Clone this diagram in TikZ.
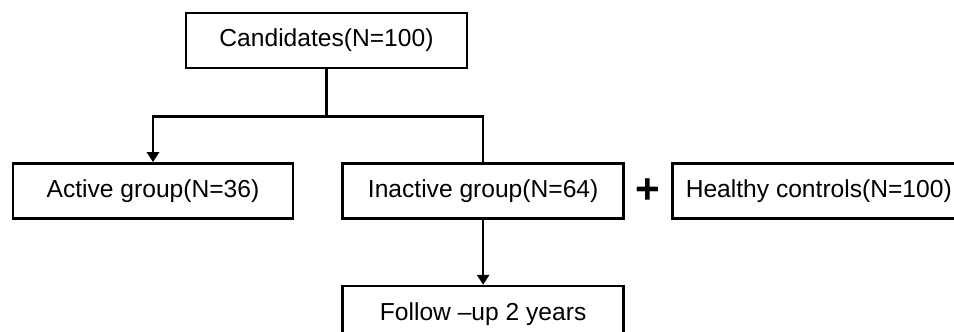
\documentclass[tikz,border=0pt]{standalone}
\usepackage{fontspec}
\setmainfont{Liberation Sans}
\usepackage{tikz}
\usetikzlibrary{arrows.meta,positioning,calc}
\definecolor{flowblack}{RGB}{0,0,0}
\tikzset{
  flowbox/.style={draw=flowblack, line width=1.5pt, align=center,
                  minimum width=#1, minimum height=1.1cm, inner sep=0pt,
                  font=\fontsize{14}{16}\selectfont},
  flowbox/.default=5.62cm,
  link/.style   ={line width=1.5pt, draw=flowblack},
  arr/.style    ={link, -{Triangle[length=0.2cm, width=0.24cm]}},
}
\begin{document}
\begin{tikzpicture}
  \useasboundingbox (0,0) rectangle (19.08,-6.64);
  \clip (0,0) rectangle (19.08,-6.64);

  \node[flowbox] (cand) at (6.53,-0.81) {Candidates(N=100)};
  \node[flowbox=5.6cm] (act) at (3.06,-3.82) {Active group(N=36)};
  \node[flowbox, right=0.94cm of act] (inact) {Inactive group(N=64)};
  \node[flowbox=5.86cm, right=0.92cm of inact] (healthy)
        {Healthy controls(N=100)};
  \node[font=\fontsize{24}{24}\selectfont\bfseries, inner sep=0pt]
        (plus) at ($(inact.east)!0.5!(healthy.west)$) {+};
  \node[flowbox, below=1.3cm of inact] (follow) {Follow --up 2 years};

  \draw[link] (cand.south) -- ++(0,-0.94) coordinate (split);
  \draw[arr] (split) -| (act.north);
  \draw[link] (split) -| (inact.north);
  \draw[arr] (inact) -- (follow);
\end{tikzpicture}
\end{document}
